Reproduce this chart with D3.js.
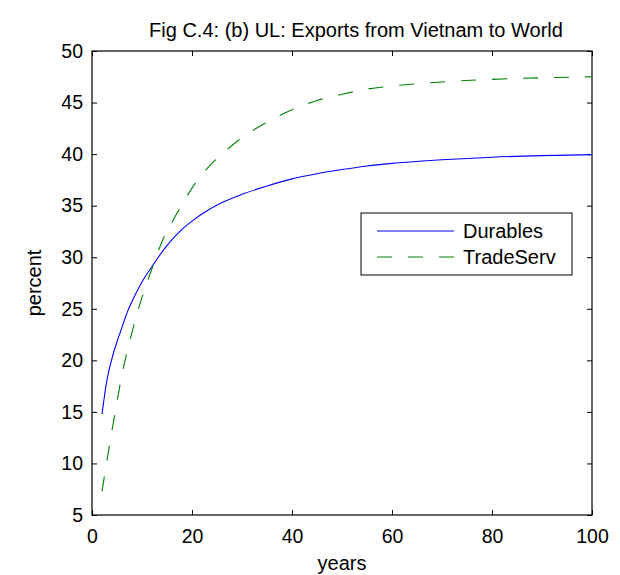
<!DOCTYPE html>
<html>
<head>
<meta charset="utf-8">
<script src="https://cdn.jsdelivr.net/npm/d3@7"></script>
<style>
  body { margin: 0; background: #fff; }
  text { font-family: "Liberation Sans", Arial, sans-serif; fill: #000; }
</style>
</head>
<body>
<div id="chart"></div>
<script>
// years on the x axis
const years = [2, 3, 4, 5, 6, 7, 8, 9, 10, 12, 14, 16, 18, 20, 23, 26, 30, 35, 40, 45, 50, 55, 60, 70, 80, 90, 100];
const durables = [14.8, 18.1, 20.2, 21.8, 23.2, 24.6, 25.7, 26.7, 27.6, 29.1, 30.5, 31.7, 32.7, 33.5, 34.5, 35.3, 36.1, 36.9, 37.6, 38.1, 38.5, 38.85, 39.1, 39.45, 39.7, 39.85, 39.95];
const tradeServ = [7.3, 10.3, 13.2, 16.0, 18.6, 20.8, 22.7, 24.5, 26.1, 28.9, 31.5, 33.4, 35.1, 36.7, 38.6, 40.0, 41.6, 43.1, 44.3, 45.2, 45.8, 46.3, 46.6, 47.0, 47.25, 47.4, 47.5];
const xTicks = [0, 20, 40, 60, 80, 100];
const yTicks = [5, 10, 15, 20, 25, 30, 35, 40, 45, 50];
const seriesNames = ["Durables", "TradeServ"];

// plot area
var margin = { top: 51, right: 28, bottom: 60, left: 92 },
  width = 620 - margin.left - margin.right,
  height = 575 - margin.top - margin.bottom;

var svg = d3
  .select("#chart")
  .append("svg")
  .attr("width", 620)
  .attr("height", 575)
  .append("g")
  .attr("transform", "translate(" + margin.left + "," + margin.top + ")");

var x = d3.scaleLinear().domain([0, 100]).range([0, width]);
var y = d3.scaleLinear().domain([5, 50]).range([height, 0]);

// axes, ticks pointing inward on all four sides
var tickLen = 5;
svg.append("g")
  .attr("transform", "translate(0," + height + ")")
  .call(d3.axisBottom(x).tickValues(xTicks).tickSizeInner(-tickLen).tickSizeOuter(0).tickPadding(14))
  .call((g) => g.select(".domain").remove())
  .selectAll("text")
  .style("font-size", "19.5px")
  .attr("font-family", null);

svg.append("g")
  .call(d3.axisTop(x).tickValues(xTicks).tickSizeInner(-tickLen).tickSizeOuter(0).tickFormat(""))
  .call((g) => g.select(".domain").remove());

svg.append("g")
  .call(d3.axisLeft(y).tickValues(yTicks).tickSizeInner(-tickLen).tickSizeOuter(0).tickPadding(9))
  .call((g) => g.select(".domain").remove())
  .selectAll("text")
  .style("font-size", "19.5px")
  .attr("font-family", null);

svg.append("g")
  .attr("transform", "translate(" + width + ",0)")
  .call(d3.axisRight(y).tickValues(yTicks).tickSizeInner(-tickLen).tickSizeOuter(0).tickFormat(""))
  .call((g) => g.select(".domain").remove());

svg.append("rect")
  .attr("width", width)
  .attr("height", height)
  .attr("fill", "none")
  .attr("stroke", "#000")
  .attr("stroke-width", 1.2);

// lines
var line = d3.line()
  .x((d) => x(d[0]))
  .y((d) => y(d[1]))
  .curve(d3.curveMonotoneX);

svg.append("path")
  .datum(years.map((yr, i) => [yr, durables[i]]))
  .attr("fill", "none")
  .attr("stroke", "#0000ff")
  .attr("stroke-width", 1.1)
  .attr("d", line);

svg.append("path")
  .datum(years.map((yr, i) => [yr, tradeServ[i]]))
  .attr("fill", "none")
  .attr("stroke", "#008000")
  .attr("stroke-width", 1.1)
  .attr("stroke-dasharray", "15,16")
  .attr("d", line);

// title and axis labels
svg.append("text")
  .attr("x", width / 2 + 14)
  .attr("y", -14)
  .attr("text-anchor", "middle")
  .style("font-size", "20px")
  .text("Fig C.4: (b) UL: Exports from Vietnam to World");

svg.append("text")
  .attr("x", width / 2)
  .attr("y", height + 55)
  .attr("text-anchor", "middle")
  .style("font-size", "20px")
  .text("years");

svg.append("text")
  .attr("transform", "translate(-51," + height / 2 + ") rotate(-90)")
  .attr("text-anchor", "middle")
  .style("font-size", "20px")
  .text("percent");

// legend
var legend = svg.append("g").attr("transform", "translate(269,162)");
legend.append("rect")
  .attr("width", 211)
  .attr("height", 62)
  .attr("fill", "#fff")
  .attr("stroke", "#000")
  .attr("stroke-width", 1);

var legendStyles = [
  { color: "#0000ff", dash: null },
  { color: "#008000", dash: "15,16" },
];
seriesNames.forEach(function (name, i) {
  var ly = 18 + i * 26;
  legend.append("line")
    .attr("x1", 16).attr("x2", 93)
    .attr("y1", ly).attr("y2", ly)
    .attr("stroke", legendStyles[i].color)
    .attr("stroke-width", 1.1)
    .attr("stroke-dasharray", legendStyles[i].dash);
  legend.append("text")
    .attr("x", 102)
    .attr("y", ly + 7)
    .style("font-size", "20px")
    .text(name);
});
</script>
</body>
</html>
